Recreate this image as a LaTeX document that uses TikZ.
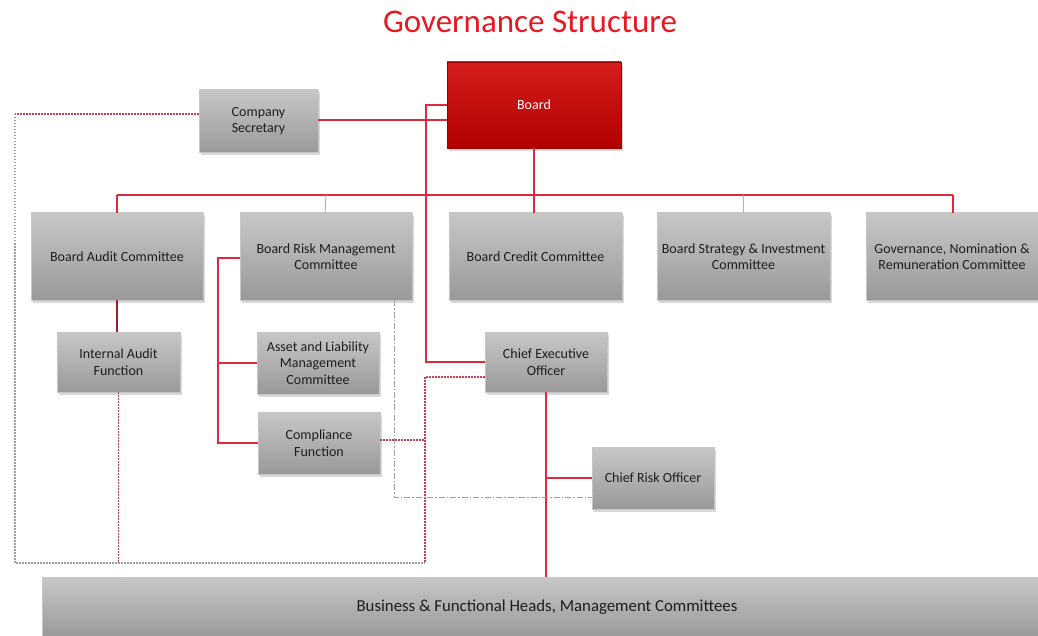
\documentclass[tikz,border=0pt]{standalone}
\usepackage{fontspec}
\setmainfont{Carlito}
\usetikzlibrary{shadows}
\definecolor{redline}{RGB}{222,42,62}
\definecolor{titlered}{RGB}{232,24,32}
\definecolor{boxtxt}{RGB}{30,30,30}
\tikzset{
  box/.style={draw=gray!45, line width=0.4pt, top color=black!22, middle color=black!36, bottom color=black!40,
    drop shadow={shadow xshift=2pt, shadow yshift=-3pt, opacity=0.3},
    text=boxtxt, align=center, inner sep=2pt,
    font=\fontsize{14}{16.5}\selectfont},
  boardbox/.style={box, draw=red!60!black, top color={rgb,255:red,214;green,30;blue,30}, middle color={rgb,255:red,196;green,4;blue,8}, bottom color={rgb,255:red,178;green,0;blue,0}, text=white},
  redl/.style={draw=redline, line width=1.5pt},
  reddot/.style={draw=redline!75!gray, line width=1.3pt, dash pattern=on 1.5pt off 1.5pt},
  graydot/.style={draw=gray!75, line width=1.3pt, dash pattern=on 1.5pt off 1.5pt},
  graydash/.style={draw=gray!75, line width=1pt, dash pattern=on 6pt off 2pt on 1.5pt off 2pt},
  graytick/.style={draw=gray!60, line width=1pt},
}
\begin{document}
\begin{tikzpicture}[x=1pt,y=-1pt]
\useasboundingbox (0,0) rectangle (1038,636);
\fill[white] (0,0) rectangle (1038,636);

\node[text=titlered, font=\fontsize{33}{38}\selectfont] (title) at (530,22) {Governance Structure};

\node[boardbox, minimum width=174pt, minimum height=86pt] (board) at (534,105) {Board};
\node[box, minimum width=119pt, minimum height=62pt] (cs) at (258.5,121) {Company\\Secretary};

\node[box, minimum width=172pt, minimum height=87pt] (bac) at (117,256.5) {Board Audit Committee};
\node[box, minimum width=172pt, minimum height=87pt] (brmc) at (326,256.5) {Board Risk Management\\Committee};
\node[box, minimum width=173pt, minimum height=87pt] (bcc) at (535.5,256.5) {Board Credit Committee};
\node[box, minimum width=173pt, minimum height=87pt] (bsic) at (743.5,256.5) {Board Strategy \& Investment\\Committee};
\node[box, minimum width=172pt, minimum height=87pt] (gnrc) at (952,256.5) {Governance, Nomination \&\\Remuneration Committee};

\node[box, minimum width=123pt, minimum height=60pt] (iaf) at (118.5,362) {Internal Audit\\Function};
\node[box, minimum width=122pt, minimum height=62pt] (almc) at (318,363) {Asset and Liability\\Management\\Committee};
\node[box, minimum width=122pt, minimum height=62pt] (comp) at (319,443) {Compliance\\Function};
\node[box, minimum width=122pt, minimum height=60pt] (ceo) at (546,362) {Chief Executive\\Officer};
\node[box, minimum width=122pt, minimum height=62pt] (cro) at (653,478) {Chief Risk Officer};

\node[box, minimum width=1010pt, minimum height=60pt, font=\fontsize{16.8}{20}\selectfont] (biz) at (547,607) {Business \& Functional Heads, Management Committees};

% coordinates
\coordinate (busL) at (117,195);
\coordinate (busR) at (953,195);
\coordinate (ceoV) at (426,230);
\coordinate (rv) at (218,300);
\coordinate (fTL) at (15,114);
\coordinate (fBL) at (15,563);
\coordinate (fBR) at (425,563);

% board to committees
\draw[redl] (board.south) -- (bcc.north -| board.south);
\draw[redl] (busL) -- (busR);
\draw[redl] (busL) -- (bac.north -| busL);
\draw[redl] (busR) -- (gnrc.north -| busR);
\draw[graytick] (busL -| brmc.north) -- ([xshift=-1pt]brmc.north);
\draw[graytick] (busL -| bsic.north) -- (bsic.north);

% company secretary
\draw[redl] ([yshift=1pt]cs.east) -- ([yshift=1pt]cs.east -| board.west);

% board to CEO
\draw[redl] (board.west) -| (ceoV) |- (ceo.west);

% audit
\draw[redl, draw=redline!70!black] (bac.south) -- (iaf.north -| bac.south);

% risk committee branches
\draw[redl] ([yshift=-1.5pt]brmc.west) -| (rv) |- (comp.west);
\draw[redl] (rv |- almc.west) -- (almc.west);

% CEO to business and CRO
\draw[redl] (ceo.south) -- (ceo.south |- biz.north);
\draw[redl] (ceo.south |- cro.west) -- (cro.west);

% dotted reporting lines
\draw[reddot] ([yshift=7pt]cs.west) -- (fTL);
\draw[graydot] (fTL) -- (fBL) -- (fBR);
\draw[reddot] (iaf.south) -- (iaf.south |- fBL);
\draw[reddot] ([yshift=-15pt]ceo.west) -| (fBR);
\draw[reddot] ([yshift=3pt]comp.east) -- ([yshift=3pt]comp.east -| fBR);

% risk committee to CRO
\draw[graydash] ([xshift=-18pt]brmc.south east) |- ([yshift=-19pt]cro.west);
\end{tikzpicture}
\end{document}
